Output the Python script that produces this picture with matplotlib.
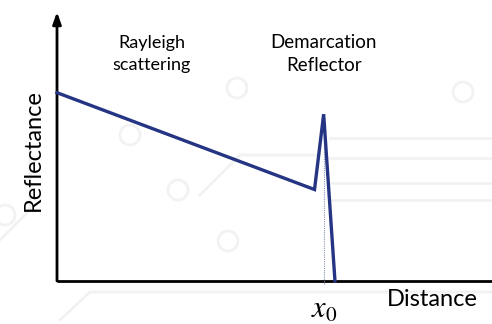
import matplotlib
matplotlib.use("Agg")
import matplotlib.pyplot as plt
from matplotlib.patches import Circle

# Schematic OTDR-style trace: reflectance vs distance
distance = [0.0, 5.92, 6.13, 6.39]
reflectance = [0.70, 0.34, 0.62, 0.0]
x0 = 6.13
x0_peak = 0.62

W, H = 492, 324
fig = plt.figure(figsize=(W / 100, H / 100), dpi=100)
fig.patch.set_facecolor("white")

# faint circuit-board decoration in the background
bg = fig.add_axes([0, 0, 1, 1], zorder=0)
bg.set_xlim(0, W)
bg.set_ylim(H, 0)
bg.axis("off")
deco = "#f2f2f2"
for cx, cy in [(237, 88), (463, 92), (178, 190), (228, 241), (5, 215), (130, 135)]:
    bg.add_patch(Circle((cx, cy), 10, fill=False, ec=deco, lw=2))
for xs, ys in [([0, 30, 30], [240, 210, 150]), ([60, 90, 492], [320, 292, 292]),
               ([330, 492], [138, 138]), ([330, 492], [158, 158]),
               ([330, 492], [183, 183]), ([330, 492], [200, 200]),
               ([200, 240, 320], [195, 155, 155])]:
    bg.plot(xs, ys, color=deco, lw=2)

left, bottom = 57 / W, (H - 281) / H
ax = fig.add_axes([left, bottom, 1 - left, (281 - 12) / H], zorder=1)
ax.patch.set_alpha(0)
ax.set_xlim(0, 10)
ax.set_ylim(0, 1)
for s in ax.spines.values():
    s.set_visible(False)
ax.set_xticks([])
ax.set_yticks([])

# axes: arrowed vertical, plain horizontal
ax.annotate("", xy=(0, 1.0), xytext=(0, 0), xycoords="axes fraction",
            arrowprops=dict(arrowstyle="-|>,head_length=0.7,head_width=0.25",
                            color="black", lw=2, shrinkA=0, shrinkB=0))
ax.plot([0, 1], [0, 0], transform=ax.transAxes, color="black", lw=2,
        solid_capstyle="butt", clip_on=False)

ax.plot([x0, x0], [x0_peak, -0.01], color="#8a93b8", lw=0.8, ls=(0, (1, 1)),
        clip_on=False, zorder=2)
ax.plot(distance, reflectance, color="#253583", lw=2.4, zorder=3,
        solid_joinstyle="miter", clip_on=False)

font = "Lato"
ax.text(2.18, 0.845, "Rayleigh\nscattering", ha="center", va="center",
        fontsize=13, family=font, linespacing=1.45)
ax.text(x0, 0.845, "Demarcation\nReflector", ha="center", va="center",
        fontsize=13.5, family=font, linespacing=1.45)
fig.text(33 / W, 1 - 150 / H, "Reflectance", rotation=90, ha="center",
         va="center", fontsize=17, family=font)
fig.text(432 / W, 1 - 300 / H, "Distance", ha="center", va="center",
         fontsize=17, family=font)
fig.text(324 / W, 1 - 310 / H, r"$x_0$", ha="center", va="center", fontsize=22,
         math_fontfamily="stix")

fig.savefig("out.png", dpi=100)
